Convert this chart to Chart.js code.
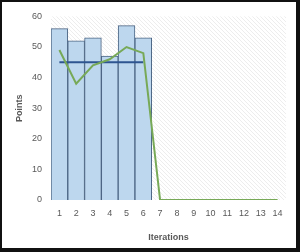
<!DOCTYPE html>
<html>
<head>
<meta charset="utf-8">
<script src="https://cdn.jsdelivr.net/npm/chart.js@4/dist/chart.umd.min.js"></script>
<style>
    html, body { margin: 0; padding: 0; background: #fff; }
    /* рамка вокруг картинки - справа и снизу толще */
    .frame {
        width: 300px;
        height: 252px;
        box-sizing: border-box;
        border-style: solid;
        border-color: #111;
        border-width: 2px 4px 4px 2px;
        background: #fff;
    }
    .frame canvas { display: block; }
</style>
</head>
<body>
<div class="frame"><canvas id="chart" width="294" height="246"></canvas></div>
<script>
/**
 * Данные графика.
 */
const ITERATIONS = ['1', '2', '3', '4', '5', '6', '7', '8', '9', '10', '11', '12', '13', '14'];
const POINTS = [56, 52, 53, 47, 57, 53, null, null, null, null, null, null, null, null];
const AVERAGE = [45, 45, 45, 45, 45, 45, null, null, null, null, null, null, null, null];
const TREND = [49, 38, 44, 46, 50, 48, 0, 0, 0, 0, 0, 0, 0, 0];
const Y_TICKS = [0, 10, 20, 30, 40, 50, 60];

const TEXT_COLOR = '#595959';
const FONT = 'Liberation Sans';

/**
 * Заливаем область графика светлой диагональной штриховкой.
 */
const makeHatch = (ctx) => {
    const tile = document.createElement('canvas');
    tile.width = tile.height = 4;
    const t = tile.getContext('2d');
    t.fillStyle = '#ffffff';
    t.fillRect(0, 0, 4, 4);
    t.strokeStyle = '#ededed';
    t.lineWidth = 1;
    t.beginPath();
    t.moveTo(0, 0);
    t.lineTo(4, 4);
    t.moveTo(-1, 3);
    t.lineTo(1, 5);
    t.moveTo(3, -1);
    t.lineTo(5, 1);
    t.stroke();
    return ctx.createPattern(tile, 'repeat');
};

const hatchPlugin = {
    id: 'hatch',
    beforeDraw: (chart) => {
        const {ctx, chartArea} = chart;
        ctx.save();
        ctx.fillStyle = makeHatch(ctx);
        ctx.fillRect(chartArea.left, chartArea.top, chartArea.right - chartArea.left, chartArea.bottom - chartArea.top);
        ctx.restore();
    }
};

const onDOMLoaded = () => {
    const CHART = document.getElementById('chart').getContext('2d');

    new Chart(CHART, {
        type: 'bar',
        data: {
            labels: ITERATIONS,
            datasets: [
                {
                    type: 'line',
                    data: TREND,
                    borderColor: '#77a957',
                    borderWidth: 2,
                    pointRadius: 0,
                    tension: 0,
                    order: 1
                },
                {
                    type: 'line',
                    data: AVERAGE,
                    borderColor: '#2e5590',
                    borderWidth: 2,
                    pointRadius: 0,
                    tension: 0,
                    spanGaps: false,
                    order: 2
                },
                {
                    type: 'bar',
                    data: POINTS,
                    backgroundColor: '#bdd7ee',
                    borderColor: '#4b6483',
                    borderWidth: 1,
                    barPercentage: 1,
                    categoryPercentage: 1,
                    order: 3
                }
            ]
        },
        options: {
            responsive: false,
            animation: false,
            devicePixelRatio: 1,
            layout: {padding: {top: 12, right: 10, left: 0, bottom: 0}},
            plugins: {
                legend: {display: false},
                tooltip: {enabled: false}
            },
            scales: {
                x: {
                    grid: {display: false, drawTicks: false},
                    border: {display: false},
                    ticks: {
                        color: TEXT_COLOR,
                        font: {family: FONT, size: 9},
                        padding: 8,
                        maxRotation: 0,
                        autoSkip: false
                    },
                    title: {
                        display: true,
                        text: 'Iterations',
                        color: TEXT_COLOR,
                        font: {family: FONT, size: 9, weight: 'bold'},
                        padding: {top: 0, bottom: 5}
                    },
                    afterFit: (scale) => { scale.height = 48; }
                },
                y: {
                    min: 0,
                    max: 60,
                    afterBuildTicks: (scale) => {
                        scale.ticks = Y_TICKS.map((v) => ({value: v}));
                    },
                    grid: {display: false, drawTicks: false},
                    border: {display: false},
                    ticks: {
                        color: TEXT_COLOR,
                        font: {family: FONT, size: 9},
                        padding: 9
                    },
                    title: {
                        display: true,
                        text: 'Points',
                        color: TEXT_COLOR,
                        font: {family: FONT, size: 9, weight: 'bold'},
                        padding: {top: 12, bottom: 0}
                    },
                    afterFit: (scale) => { scale.width = 49; }
                }
            }
        },
        plugins: [hatchPlugin]
    });
};

document.addEventListener('DOMContentLoaded', onDOMLoaded);
</script>
</body>
</html>
